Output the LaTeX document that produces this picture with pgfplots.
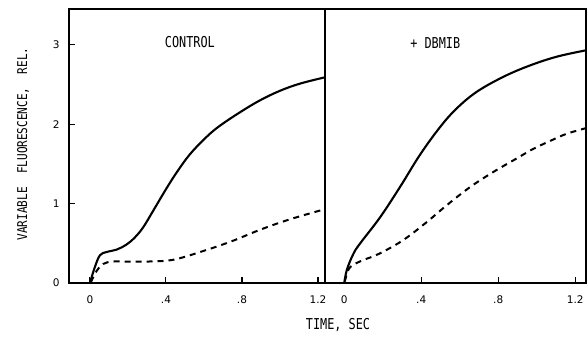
\documentclass[border=0pt]{standalone}
\usepackage{fontspec}
\usepackage{pgfplots}
\pgfplotsset{compat=1.18}
\newfontfamily\plotfont[FakeStretch=0.79]{DejaVu Sans Mono}
\newfontfamily\ylabfont[FakeStretch=0.82]{DejaVu Sans Mono}
\newfontfamily\tickfont{DejaVu Sans}

\pgfplotsset{
  panel/.style={
    scale only axis,
    anchor=south west,
    height=274pt,
    ymin=0, ymax=3.45,
    axis line style={line width=1.4pt},
    every tick/.style={black, line width=1.1pt},
    major tick length=6pt,
    tick align=inside,
    xtick={0,0.4,0.8,1.2},
    xticklabels={0,.4,.8,1.2},
    xtick pos=bottom,
    /pgf/number format/assume math mode=true,
    ticklabel style={font=\tickfont\fontsize{10.5}{12}\selectfont},
    xticklabel style={yshift=-9pt},
    yticklabel style={xshift=-6pt},
    clip=true,
  },
  solidcurve/.style={black, line width=2.1pt, smooth, tension=0.6},
  dashcurve/.style={black, line width=2pt, smooth, tension=0.6,
    dash pattern=on 6pt off 5pt},
}

\begin{document}
\begin{tikzpicture}
% control panel
\begin{axis}[panel,
  at={(69pt,56pt)}, width=256pt,
  xmin=-0.11, xmax=1.237,
  ytick={0,1,2,3}, ytick pos=left]
\addplot[solidcurve] coordinates {
  (0,0) (0.026,0.2) (0.053,0.35) (0.088,0.39) (0.14,0.42) (0.19,0.48)
  (0.235,0.57) (0.28,0.70) (0.333,0.91) (0.40,1.18) (0.456,1.39)
  (0.526,1.62) (0.614,1.84) (0.684,1.98) (0.79,2.15) (0.895,2.30)
  (1.0,2.42) (1.105,2.51) (1.237,2.59)};
\addplot[dashcurve] coordinates {
  (0.005,0.01) (0.035,0.15) (0.07,0.24) (0.12,0.27) (0.2,0.27) (0.3,0.27)
  (0.4,0.28) (0.47,0.31) (0.58,0.39) (0.74,0.52) (0.895,0.67)
  (1.05,0.80) (1.237,0.93)};
\node[font=\plotfont\fontsize{15}{17}\selectfont] at (axis cs:0.526,3.03) {CONTROL};
\end{axis}
% DBMIB panel
\begin{axis}[panel,
  at={(325pt,56pt)}, width=261pt,
  xmin=-0.1, xmax=1.256,
  ytick=\empty]
\addplot[solidcurve] coordinates {
  (0,0) (0.014,0.17) (0.048,0.37) (0.083,0.5) (0.187,0.83) (0.29,1.21)
  (0.395,1.62) (0.5,1.97) (0.585,2.2) (0.69,2.41) (0.83,2.6)
  (0.966,2.74) (1.105,2.85) (1.256,2.93)};
\addplot[dashcurve] coordinates {
  (0.003,0.02) (0.022,0.17) (0.048,0.23) (0.1,0.29) (0.178,0.365)
  (0.30,0.53) (0.42,0.75) (0.533,0.98) (0.655,1.21) (0.776,1.40)
  (0.897,1.57) (0.983,1.69) (1.08,1.80) (1.157,1.88) (1.256,1.95)};
\node[font=\plotfont\fontsize{15}{17}\selectfont] at (axis cs:0.473,3.02) {+ DBMIB};
\end{axis}
% axis titles
\node[font=\plotfont\fontsize{15}{17}\selectfont] at (338pt,14pt) {TIME, SEC};
\node[font=\ylabfont\fontsize{13.5}{15}\selectfont, rotate=90] at (23pt,195pt)
  {VARIABLE\ \ FLUORESCENCE,\ \ REL.};
\pgfresetboundingbox
\path[use as bounding box] (0,0) rectangle (588pt,339pt);
\end{tikzpicture}
\end{document}
